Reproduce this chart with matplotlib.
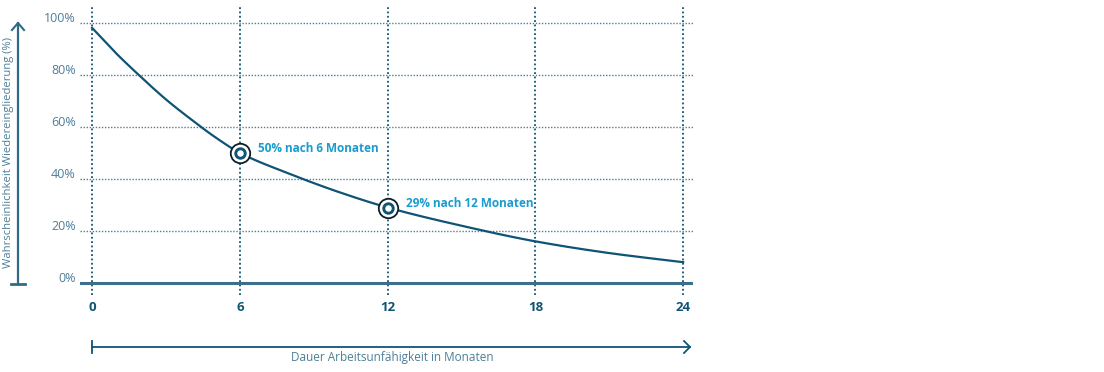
import matplotlib
matplotlib.use("Agg")
import matplotlib.pyplot as plt
from matplotlib.lines import Line2D
import numpy as np

months = [0, 1, 2, 3, 4, 5, 6, 8, 10, 12, 15, 18, 21, 24]
prob = [98, 88, 79, 70.5, 63, 56, 50, 42, 35, 29, 22, 16, 11.5, 8]
y_ticks = [0, 20, 40, 60, 80, 100]
y_labels = ["0%", "20%", "40%", "60%", "80%", "100%"]
x_ticks = [0, 6, 12, 18, 24]
x_labels = ["0", "6", "12", "18", "24"]
highlight_x = [6, 12]
highlight_y = [50, 29]
highlight_text = ["50% nach 6 Monaten", "29% nach 12 Monaten"]
ylabel = "Wahrscheinlichkeit Wiedereingliederung (%)"
xlabel = "Dauer Arbeitsunfähigkeit in Monaten"

DARK = "#0f5475"
LIGHT = "#4d7f96"
AXC = "#2f6b86"
CYAN = "#1a9ccf"
FONT = ["Open Sans", "DejaVu Sans"]

W, H = 1104, 372
fig = plt.figure(figsize=(W / 100, H / 100), dpi=100)
ax = fig.add_axes([80 / W, 1 - 295 / H, (693 - 80) / W, (295 - 7) / H])
ax.set_xlim(-0.49, 24.4)
ax.set_ylim(-4.6, 106)
ax.axis("off")

for yv in y_ticks[1:]:
    ax.axhline(yv, color=LIGHT, lw=1.0, ls=(0, (1, 1.2)), zorder=1)
for xv in x_ticks:
    ax.axvline(xv, color=DARK, lw=1.3, ls=(0, (1, 1.4)), zorder=1)
ax.axhline(0, color="#3b7088", lw=2.2, zorder=2)


def pchip(x, y, xn):
    h = np.diff(x)
    d = np.diff(y) / h
    m = np.zeros_like(y)
    for k in range(1, len(x) - 1):
        if d[k - 1] * d[k] > 0:
            w1 = 2 * h[k] + h[k - 1]
            w2 = h[k] + 2 * h[k - 1]
            m[k] = (w1 + w2) / (w1 / d[k - 1] + w2 / d[k])
    m[0] = d[0]
    m[-1] = d[-1]
    out = np.empty_like(xn)
    for i, xv in enumerate(xn):
        k = min(np.searchsorted(x, xv, side="right") - 1, len(x) - 2)
        t = (xv - x[k]) / h[k]
        h00 = 2 * t**3 - 3 * t**2 + 1
        h10 = t**3 - 2 * t**2 + t
        h01 = -2 * t**3 + 3 * t**2
        h11 = t**3 - t**2
        out[i] = h00 * y[k] + h10 * h[k] * m[k] + h01 * y[k + 1] + h11 * h[k] * m[k + 1]
    return out


xs = np.array(months, dtype=float)
ys = np.array(prob, dtype=float)
xn = np.linspace(0, 24, 400)
ax.plot(xn, pchip(xs, ys, xn), color=DARK, lw=1.6, zorder=3)

ax.plot(highlight_x, highlight_y, "o", ms=14, mfc="white", mec="#0b1f2c", mew=1.3, zorder=4)
ax.plot(highlight_x, highlight_y, "o", ms=6.8, mfc="white", mec=DARK, mew=2.1, zorder=5)
for hx, hy, t in zip(highlight_x, highlight_y, highlight_text):
    ax.annotate(t, (hx, hy), xytext=(13, 3), textcoords="offset points",
                ha="left", va="center", color=CYAN, fontsize=8.5,
                fontweight="bold", family=FONT, zorder=6)

for yv, lab in zip(y_ticks, y_labels):
    ax.annotate(lab, (-0.49, yv), xytext=(-3, 3), textcoords="offset points",
                ha="right", va="center", color=LIGHT, fontsize=9, family=FONT)
for xv, lab in zip(x_ticks, x_labels):
    ax.annotate(lab, (xv, -4.6), xytext=(0, -4), textcoords="offset points",
                ha="center", va="top", color=DARK, fontsize=9.5,
                fontweight="bold", family=FONT)


def L(xp, yp, **kw):
    fig.add_artist(Line2D([v / W for v in xp], [1 - v / H for v in yp],
                          transform=fig.transFigure, **kw))


# y axis arrow
L([18, 18], [284, 23], color=AXC, lw=1.6)
L([12, 18, 24], [30, 23, 30], color=AXC, lw=1.5)
L([11, 25], [284, 284], color=AXC, lw=2.0)
fig.text(9 / W, 1 - 153 / H, ylabel, rotation=90, ha="center", va="center",
         color=LIGHT, fontsize=8.1, family=FONT)

# x axis arrow
L([92, 690], [347, 347], color=DARK, lw=1.3)
L([92, 92], [341, 353], color=DARK, lw=1.3)
L([684, 690, 684], [341, 347, 353], color=DARK, lw=1.3)
fig.text(392 / W, 1 - 357 / H, xlabel, ha="center", va="center",
         color=LIGHT, fontsize=8.5, family=FONT)

fig.savefig("out.png", dpi=100)
